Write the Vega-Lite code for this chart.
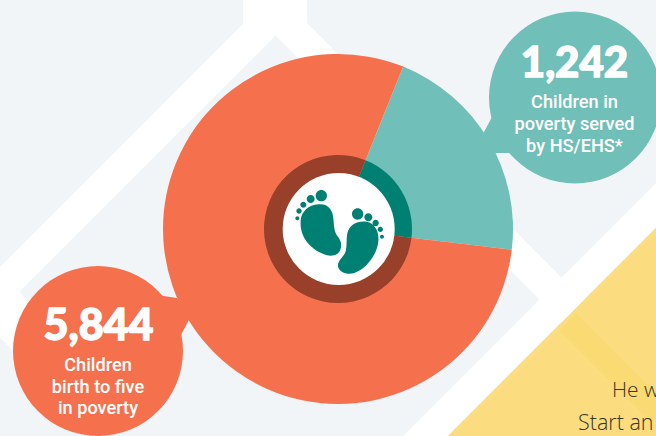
{
"$schema":"https://vega.github.io/schema/vega-lite/v6.json",
"width":656,"height":436,"autosize":{"type":"none"},"padding":0,
"background":"#F1F5F8",
"config":{"view":{"stroke":null}},
"datasets":{"pie":[
{"group":"served","seq":1,"share":20.8,"children":1242,"label":"Children in\npoverty served\n by HS/EHS*"},
{"group":"poverty","seq":2,"share":79.2,"children":5844,"label":"Children\nbirth to five\nin poverty"}],
"roads":[
{"x":289,"y":0,"x2":-20,"y2":309},
{"x":262,"y":0,"x2":640,"y2":378},
{"x":900,"y":-39,"x2":400,"y2":461}]},
"resolve":{"scale":{"color":"independent"}},
"layer":[
{"data":{"name":"roads"},"mark":{"type":"rule","color":"#FFFFFF","strokeWidth":31},
 "encoding":{"x":{"field":"x","type":"quantitative","axis":null,"scale":{"domain":[0,656],"nice":false,"zero":false}},"y":{"field":"y","type":"quantitative","axis":null,"scale":{"domain":[0,436],"nice":false,"zero":false,"reverse":true}},"x2":{"field":"x2"},"y2":{"field":"y2"}}},
{"data":{"values":[{"x":243,"y":-1,"b":27},{"x":307,"y":-1,"b":23}]},"mark":{"type":"area","orient":"vertical","color":"#FFFFFF"},
 "encoding":{"x":{"field":"x","type":"quantitative"},"y":{"field":"y","type":"quantitative"},"y2":{"field":"b"}}},
{"data":{"values":[{"x":-20,"y":285,"x2":120,"y2":425}]},"mark":{"type":"rule","color":"#FFFFFF","strokeWidth":46},
 "encoding":{"x":{"field":"x","type":"quantitative"},"y":{"field":"y","type":"quantitative"},"x2":{"field":"x2"},"y2":{"field":"y2"}}},
{"data":{"values":[{"x":447,"y":437,"b":437},{"x":656,"y":228,"b":437}]},"mark":{"type":"area","orient":"vertical","color":"#FBDC7E"},
 "encoding":{"x":{"field":"x","type":"quantitative"},"y":{"field":"y","type":"quantitative"},"y2":{"field":"b"}}},
{"data":{"values":[{"x":568,"y":322,"x2":660,"y2":414}]},"mark":{"type":"rule","color":"#FADA72","strokeWidth":24},
 "encoding":{"x":{"field":"x","type":"quantitative"},"y":{"field":"y","type":"quantitative"},"x2":{"field":"x2"},"y2":{"field":"y2"}}},
{"data":{"name":"pie"},"transform":[{"filter":"datum.group=='served'"}],"mark":{"type":"point","filled":true,"opacity":1,"color":"#71BFB9","size":29584,"shape":"circle"},
 "encoding":{"x":{"datum":575},"y":{"datum":97.5}}},
{"data":{"name":"pie"},"transform":[{"filter":"datum.group=='poverty'"}],"mark":{"type":"point","filled":true,"opacity":1,"color":"#F5714D","size":28900,"shape":"circle"},
 "encoding":{"x":{"datum":98},"y":{"datum":351}}},
{"data":{"values":[{"x":484,"y":132,"b":153},{"x":492,"y":117,"b":153},{"x":510,"y":117,"b":153}]},"mark":{"type":"area","orient":"vertical","color":"#71BFB9"},
 "encoding":{"x":{"field":"x","type":"quantitative"},"y":{"field":"y","type":"quantitative"},"y2":{"field":"b"}}},
{"data":{"values":[{"x":157,"y":295,"b":345},{"x":177,"y":298,"b":345},{"x":182,"y":306,"b":333},{"x":190,"y":318,"b":318}]},"mark":{"type":"area","orient":"vertical","color":"#F5714D"},
 "encoding":{"x":{"field":"x","type":"quantitative"},"y":{"field":"y","type":"quantitative"},"y2":{"field":"b"}}},
{"data":{"name":"pie"},"mark":{"type":"arc","radius":175,"radius2":0},
 "encoding":{"x":{"value":338},"y":{"value":229},
  "theta":{"field":"share","type":"quantitative","stack":true,"scale":{"domain":[0,100],"range":[0.382,6.665]}},
  "order":{"field":"seq"},
  "color":{"field":"group","type":"nominal","legend":null,"scale":{"domain":["served","poverty"],"range":["#71BFB9","#F5714D"]}}}},
{"data":{"name":"pie"},"mark":{"type":"arc","radius":74,"radius2":0},
 "encoding":{"x":{"value":338},"y":{"value":229},
  "theta":{"field":"share","type":"quantitative","stack":true,"scale":{"domain":[0,100],"range":[0.382,6.665]}},
  "order":{"field":"seq"},
  "color":{"field":"group","type":"nominal","legend":null,"scale":{"domain":["served","poverty"],"range":["#008072","#99402B"]}}}},
{"data":{"values":[{"icon":"hole"}]},"mark":{"type":"point","filled":true,"opacity":1,"color":"#FFFFFF","size":12544,"shape":"circle"},
 "encoding":{"x":{"datum":338.7},"y":{"datum":229}}},
{"data":{"values":[{"icon":"feet"}]},"mark":{"type":"point","filled":true,"opacity":1,"color":"#008072","size":0.4444,"shape":"M -112 -25 C -110 -52 -89 -72 -59 -74 C -29 -77 -16 -57 -14 -32 C -12 -12 -12 8 -2 21 C 11 35 13 53 4 68 C -6 83 -29 83 -49 73 C -84 58 -116 23 -112 -25 Z M 28 13 C 34 -12 56 -25 86 -22 C 111 -17 124 8 121 38 C 116 78 86 118 51 131 C 31 138 6 133 0 113 C -2 98 11 88 21 73 C 28 58 24 33 28 13 Z M -67 -100 A 17 17 0 1 0 -33 -100 A 17 17 0 1 0 -67 -100 Z M -94 -90 A 12 12 0 1 0 -70 -90 A 12 12 0 1 0 -94 -90 Z M -113 -73 A 9 9 0 1 0 -95 -73 A 9 9 0 1 0 -113 -73 Z M -125 -54 A 8 8 0 1 0 -109 -54 A 8 8 0 1 0 -125 -54 Z M -128 -32 A 6 6 0 1 0 -116 -32 A 6 6 0 1 0 -128 -32 Z M 42 -45 A 17 17 0 1 0 76 -45 A 17 17 0 1 0 42 -45 Z M 79 -35 A 12 12 0 1 0 103 -35 A 12 12 0 1 0 79 -35 Z M 103.500 -18 A 9.500 9.500 0 1 0 122.500 -18 A 9.500 9.500 0 1 0 103.500 -18 Z M 119 1 A 8 8 0 1 0 135 1 A 8 8 0 1 0 119 1 Z M 126 23 A 6 6 0 1 0 138 23 A 6 6 0 1 0 126 23 Z"},
 "encoding":{"x":{"datum":338},"y":{"datum":229}}},
{"data":{"name":"pie"},"transform":[{"filter":"datum.group=='served'"}],"mark":{"type":"text","font":"Lato","fontWeight":900,"fontSize":42,"color":"#FFFFFF","stroke":"#FFFFFF","strokeWidth":1.4,"align":"center","baseline":"alphabetic"},
 "encoding":{"x":{"datum":574.5},"y":{"datum":77},"text":{"field":"children","type":"quantitative","format":","}}},
{"data":{"name":"pie"},"transform":[{"filter":"datum.group=='poverty'"}],"mark":{"type":"text","font":"Lato","fontWeight":900,"fontSize":43,"color":"#FFFFFF","stroke":"#FFFFFF","strokeWidth":1.4,"align":"center","baseline":"alphabetic"},
 "encoding":{"x":{"datum":98.5},"y":{"datum":340},"text":{"field":"children","type":"quantitative","format":","}}},
{"data":{"name":"pie"},"transform":[{"filter":"datum.group=='served'"}],"mark":{"type":"text","font":"Roboto","fontWeight":500,"fontSize":18.2,"lineHeight":22,"lineBreak":"\n","color":"#FFFFFF","align":"center","baseline":"alphabetic"},
 "encoding":{"x":{"datum":574.5},"y":{"datum":108},"text":{"field":"label"}}},
{"data":{"name":"pie"},"transform":[{"filter":"datum.group=='poverty'"}],"mark":{"type":"text","font":"Roboto","fontWeight":500,"fontSize":18.2,"lineHeight":21.5,"lineBreak":"\n","color":"#FFFFFF","align":"center","baseline":"alphabetic"},
 "encoding":{"x":{"datum":98},"y":{"datum":371},"text":{"field":"label"}}},
{"data":{"values":[{"t":"He w"}]},"mark":{"type":"text","font":"Open Sans","fontWeight":300,"fontSize":21,"color":"#3A3520","align":"left","baseline":"alphabetic"},
 "encoding":{"x":{"datum":612},"y":{"datum":397},"text":{"field":"t"}}},
{"data":{"values":[{"t":"Start an"}]},"mark":{"type":"text","font":"Open Sans","fontWeight":300,"fontSize":21.5,"color":"#3A3520","align":"left","baseline":"alphabetic"},
 "encoding":{"x":{"datum":578},"y":{"datum":430},"text":{"field":"t"}}}
]}
